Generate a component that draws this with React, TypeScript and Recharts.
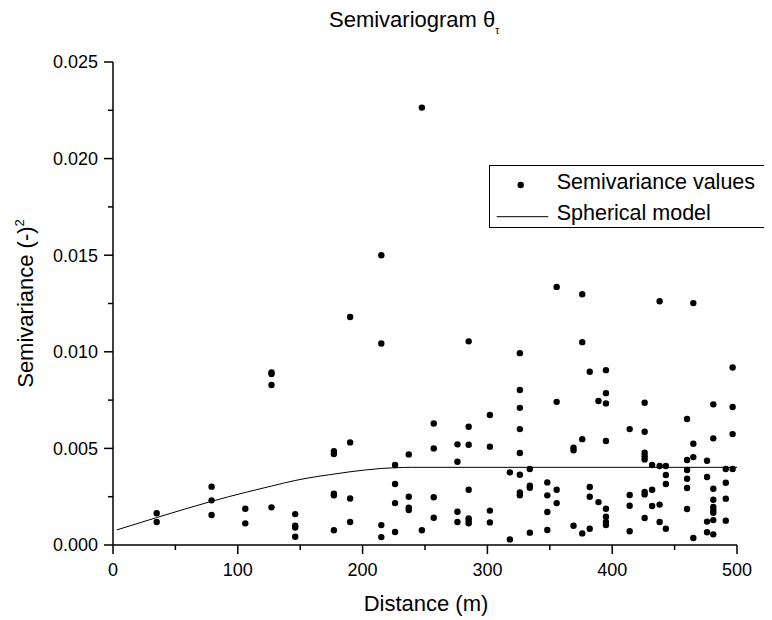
import React from "react";
import { ComposedChart, Scatter, Line, XAxis, YAxis, Legend } from "recharts";

// Experimental semivariance values, grouped by lag distance (m)
const lagDistances = [35, 79, 106, 127, 146, 177, 190, 215, 226, 237, 247.5, 257, 276, 285, 302, 318, 326, 334, 348, 355.5, 369, 376, 382, 389, 395, 414, 426, 432, 438, 443, 460, 465, 476, 481, 491, 496.5];
const lagValues: number[][] = [
  [0.00164, 0.00119],
  [0.00302, 0.00231, 0.00155],
  [0.00188, 0.00112],
  [0.00893, 0.00885, 0.00828, 0.00195],
  [0.0016, 0.001, 0.0009, 0.00043],
  [0.00486, 0.00471, 0.00265, 0.00257, 0.00076],
  [0.0118, 0.00531, 0.00241, 0.00119],
  [0.015, 0.01043, 0.00103, 0.00041],
  [0.00414, 0.00316, 0.00217, 0.00067],
  [0.00469, 0.0025, 0.00193, 0.00181],
  [0.02264, 0.00076],
  [0.00629, 0.005, 0.00247, 0.00141],
  [0.00521, 0.00431, 0.00172, 0.00119],
  [0.01054, 0.00612, 0.00519, 0.00286, 0.00138, 0.00126, 0.00112],
  [0.00673, 0.00509, 0.00178, 0.00117],
  [0.00376, 0.00029],
  [0.00993, 0.00802, 0.0071, 0.006, 0.00476, 0.00364, 0.00272, 0.00257],
  [0.00393, 0.00307, 0.00296, 0.00064],
  [0.00324, 0.00257, 0.00171, 0.00078],
  [0.01336, 0.00741, 0.00286, 0.00217],
  [0.00503, 0.0049, 0.001],
  [0.01298, 0.0105, 0.00548, 0.0006],
  [0.00897, 0.003, 0.0025, 0.00084],
  [0.00745, 0.00222],
  [0.00905, 0.00786, 0.00733, 0.00538, 0.00188, 0.00146, 0.00119, 0.00103],
  [0.006, 0.00259, 0.00203, 0.00071],
  [0.00736, 0.00586, 0.00478, 0.0046, 0.00443, 0.00275, 0.00262, 0.0014],
  [0.00414, 0.00286, 0.00202],
  [0.01262, 0.00409, 0.00209, 0.00119],
  [0.00409, 0.00362, 0.00316, 0.00084],
  [0.00652, 0.0044, 0.00388, 0.00343, 0.00295, 0.00186],
  [0.01252, 0.00524, 0.00455, 0.00036],
  [0.00436, 0.00352, 0.00121, 0.00066],
  [0.00728, 0.00552, 0.00291, 0.00234, 0.00197, 0.00181, 0.00167, 0.00129, 0.00055],
  [0.00393, 0.00322, 0.0024, 0.00126],
  [0.00919, 0.00714, 0.00574, 0.00393],
];

// Spherical model curve
const modelDistance = [3, 35, 79, 106, 127, 146, 165, 177, 190, 215, 226, 240, 500];
const modelValue = [0.00078, 0.00142, 0.00226, 0.00272, 0.00305, 0.00334, 0.00356, 0.00367, 0.00379, 0.00396, 0.004, 0.00402, 0.00402];

// Axis ticks (majors and minors)
const xTicks = [0, 50, 100, 150, 200, 250, 300, 350, 400, 450, 500];
const xTickLabels = ["0", "", "100", "", "200", "", "300", "", "400", "", "500"];
const yTicks = [0, 0.0025, 0.005, 0.0075, 0.01, 0.0125, 0.015, 0.0175, 0.02, 0.0225, 0.025];
const yTickLabels = ["0.000", "", "0.005", "", "0.010", "", "0.015", "", "0.020", "", "0.025"];

const FONT = "'Liberation Sans', Arial, Helvetica, sans-serif";

const scatterData: { x: number; y: number }[] = [];
lagDistances.forEach((d, i) => {
  lagValues[i].forEach((v) => scatterData.push({ x: d, y: v }));
});
const modelData = modelDistance.map((d, i) => ({ x: d, y: modelValue[i] }));

const XTick = (props: any) => {
  const { x, y, index } = props;
  const label = xTickLabels[index] ?? "";
  const major = label !== "";
  return (
    <g>
      <line x1={x} x2={x} y1={y} y2={y + (major ? 9 : 5)} stroke="#000" strokeWidth={1.5} />
      {major && (
        <text x={x} y={y + 31} textAnchor="middle" fontSize={18} fontFamily={FONT} fill="#000">
          {label}
        </text>
      )}
    </g>
  );
};

const YTick = (props: any) => {
  const { x, y, index } = props;
  const label = yTickLabels[index] ?? "";
  const major = label !== "";
  return (
    <g>
      <line x1={x} x2={x - (major ? 9 : 5)} y1={y} y2={y} stroke="#000" strokeWidth={1.5} />
      {major && (
        <text x={x - 15} y={y + 6.4} textAnchor="end" fontSize={18} fontFamily={FONT} fill="#000">
          {label}
        </text>
      )}
    </g>
  );
};

const Dot = (props: any) => <circle cx={props.cx} cy={props.cy} r={3.2} fill="#000" />;

const LegendBox = () => (
  <svg width={278} height={64} style={{ display: "block" }}>
    <rect x={0.5} y={0.5} width={276} height={62} fill="#fff" stroke="#000" strokeWidth={1} />
    <circle cx={31.7} cy={20} r={3.2} fill="#000" />
    <text x={67.7} y={23.5} fontSize={21.5} fontFamily={FONT} fill="#000">Semivariance values</text>
    <line x1={7.7} x2={59.3} y1={51.7} y2={51.7} stroke="#000" strokeWidth={1} />
    <text x={67.7} y={55} fontSize={21.5} fontFamily={FONT} fill="#000">Spherical model</text>
  </svg>
);

export default function App() {
  const W = 764;
  const H = 612;
  return (
    <div style={{ position: "relative", width: W, height: H, background: "#fff" }}>
      <ComposedChart
        width={W}
        height={H}
        margin={{ top: 54, right: 35, bottom: 45, left: 45 }}
      >
        <XAxis
          type="number"
          dataKey="x"
          domain={[0, 500]}
          ticks={xTicks}
          interval={0}
          tickSize={0}
          tickMargin={0}
          tickLine={false}
          tick={<XTick />}
          axisLine={{ stroke: "#000", strokeWidth: 1.5 }}
          height={30}
          allowDataOverflow
        />
        <YAxis
          type="number"
          dataKey="y"
          domain={[0, 0.025]}
          ticks={yTicks}
          interval={0}
          tickSize={0}
          tickMargin={0}
          tickLine={false}
          tick={<YTick />}
          axisLine={{ stroke: "#000", strokeWidth: 1.5 }}
          width={60}
          allowDataOverflow
        />
        <Legend
          layout="horizontal"
          verticalAlign="middle"
          align="center"
          content={() => <LegendBox />}
          wrapperStyle={{ position: "absolute", left: 481, top: 157, width: 278, height: 64 }}
        />
        <Line
          data={modelData}
          dataKey="y"
          type="monotone"
          stroke="#000"
          strokeWidth={1}
          dot={false}
          activeDot={false}
          isAnimationActive={false}
          name="Spherical model"
        />
        <Scatter
          data={scatterData}
          dataKey="y"
          fill="#000"
          shape={<Dot />}
          isAnimationActive={false}
          name="Semivariance values"
        />
      </ComposedChart>
      <svg
        width={W}
        height={H}
        style={{ position: "absolute", left: 0, top: 0, pointerEvents: "none", overflow: "visible" }}
      >
        <text x={321} y={19} fontSize={22} fontFamily={FONT} fill="#000">
          Semivariogram θ<tspan fontSize={10} dy={7}>τ</tspan>
        </text>
        <text x={418} y={603} textAnchor="middle" fontSize={22} fontFamily={FONT} fill="#000">
          Distance (m)
        </text>
        <text
          x={25}
          y={295.5}
          textAnchor="middle"
          fontSize={22}
          fontFamily={FONT}
          fill="#000"
          transform="rotate(-90, 25, 295.5)"
        >
          Semivariance (-)<tspan fontSize={13} dy={-9}>2</tspan>
        </text>
      </svg>
    </div>
  );
}
